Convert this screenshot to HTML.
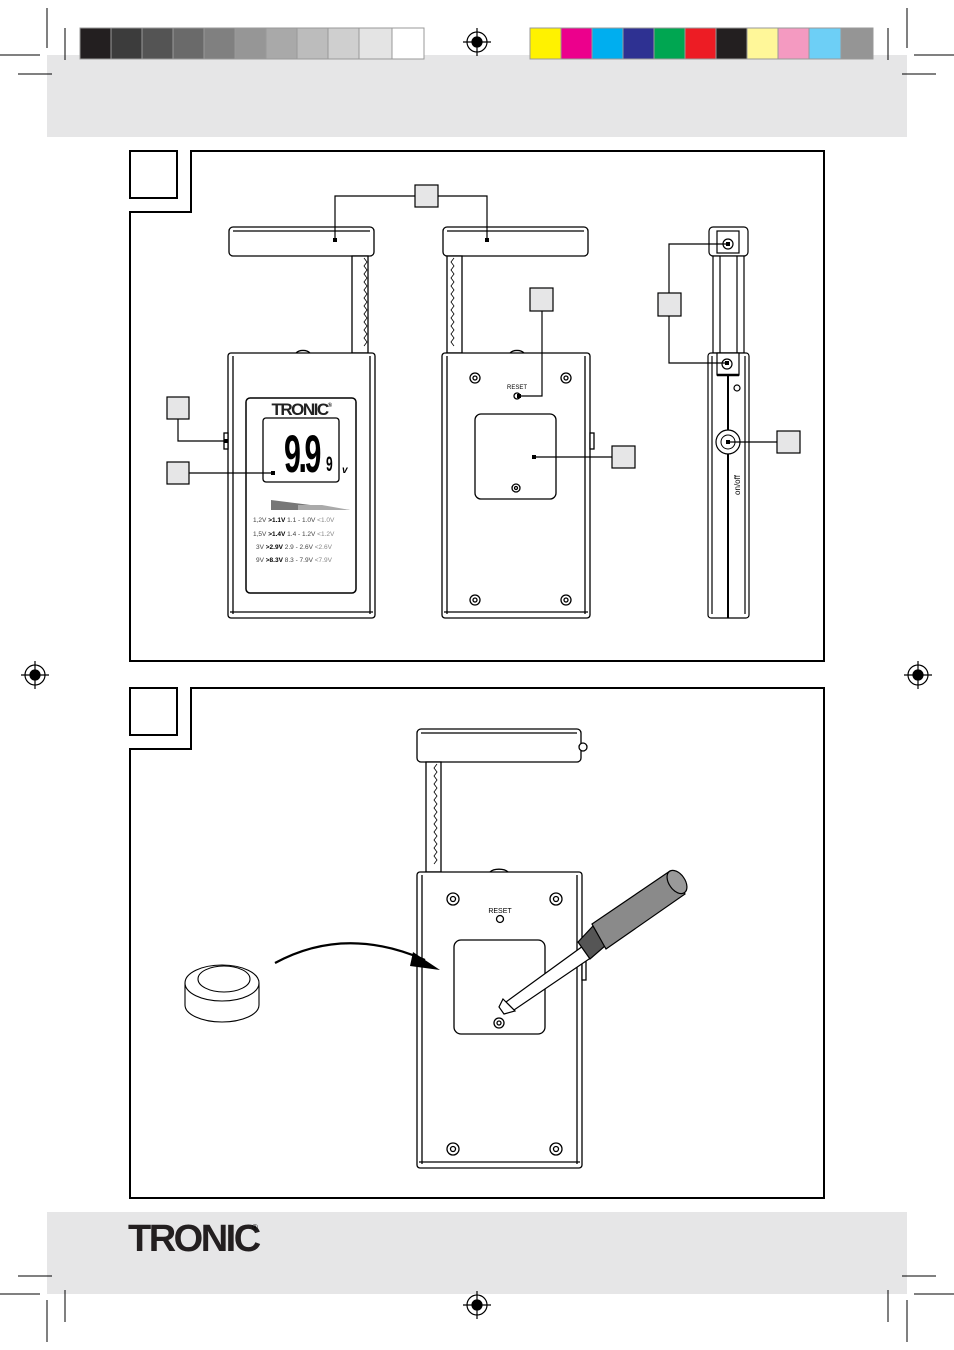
<!DOCTYPE html>
<html><head><meta charset="utf-8"><style>
html,body{margin:0;padding:0;background:#fff}
svg{display:block}
text{font-family:"Liberation Sans",Arial,sans-serif}
</style></head><body>
<svg width="954" height="1350" viewBox="0 0 954 1350" xmlns="http://www.w3.org/2000/svg">
<rect x="47" y="55" width="860" height="82" fill="#e6e6e7"/>
<rect x="47" y="1212" width="860" height="82" fill="#e6e6e7"/>
<g stroke="#999" stroke-width="1">
<rect x="80" y="28" width="31" height="31" fill="#231f20"/>
<rect x="111" y="28" width="31" height="31" fill="#3c3c3c"/>
<rect x="142" y="28" width="31" height="31" fill="#545454"/>
<rect x="173" y="28" width="31" height="31" fill="#6a6a6a"/>
<rect x="204" y="28" width="31" height="31" fill="#808080"/>
<rect x="235" y="28" width="31" height="31" fill="#969696"/>
<rect x="266" y="28" width="31" height="31" fill="#a9a9a9"/>
<rect x="297" y="28" width="31" height="31" fill="#bcbcbc"/>
<rect x="328" y="28" width="31" height="31" fill="#cfcfcf"/>
<rect x="359" y="28" width="33" height="31" fill="#e4e4e4"/>
<rect x="392" y="28" width="32" height="31" fill="#fff"/>
<rect x="530" y="28" width="31" height="31" fill="#fff200"/>
<rect x="561" y="28" width="31" height="31" fill="#ec008c"/>
<rect x="592" y="28" width="31" height="31" fill="#00aeef"/>
<rect x="623" y="28" width="31" height="31" fill="#2e3192"/>
<rect x="654" y="28" width="31" height="31" fill="#00a651"/>
<rect x="685" y="28" width="31" height="31" fill="#ed1c24"/>
<rect x="716" y="28" width="31" height="31" fill="#231f20"/>
<rect x="747" y="28" width="31" height="31" fill="#fff799"/>
<rect x="778" y="28" width="31" height="31" fill="#f49ac1"/>
<rect x="809" y="28" width="32" height="31" fill="#6dcff6"/>
<rect x="841" y="28" width="32" height="31" fill="#959595"/>
</g>
<g stroke="#000" stroke-width="1">
<line x1="47" y1="8" x2="47" y2="48"/><line x1="65" y1="28" x2="65" y2="60"/>
<line x1="0" y1="55" x2="40" y2="55"/><line x1="18" y1="74" x2="52" y2="74"/>
<line x1="907" y1="8" x2="907" y2="48"/><line x1="888" y1="28" x2="888" y2="60"/>
<line x1="914" y1="55" x2="954" y2="55"/><line x1="902" y1="74" x2="936" y2="74"/>
<line x1="47" y1="1300" x2="47" y2="1342"/><line x1="65" y1="1290" x2="65" y2="1322"/>
<line x1="0" y1="1294" x2="40" y2="1294"/><line x1="18" y1="1276" x2="52" y2="1276"/>
<line x1="907" y1="1300" x2="907" y2="1342"/><line x1="888" y1="1290" x2="888" y2="1322"/>
<line x1="914" y1="1294" x2="954" y2="1294"/><line x1="902" y1="1276" x2="936" y2="1276"/>
</g>
<g stroke="#000" stroke-width="1.2" fill="none">
<g transform="translate(477,42)"><circle r="10"/><circle r="5" fill="#000"/><line x1="-14" x2="14"/><line y1="-14" y2="14"/></g>
<g transform="translate(35,675)"><circle r="10"/><circle r="5" fill="#000"/><line x1="-14" x2="14"/><line y1="-14" y2="14"/></g>
<g transform="translate(918,675)"><circle r="10"/><circle r="5" fill="#000"/><line x1="-14" x2="14"/><line y1="-14" y2="14"/></g>
<g transform="translate(477,1305)"><circle r="10"/><circle r="5" fill="#000"/><line x1="-14" x2="14"/><line y1="-14" y2="14"/></g>
</g>
<g fill="none" stroke="#000" stroke-width="2">
<polygon points="191,151 824,151 824,661 130,661 130,212 191,212"/>
<rect x="130" y="151" width="47" height="47"/>
<polygon points="191,688 824,688 824,1198 130,1198 130,749 191,749"/>
<rect x="130" y="688" width="47" height="47"/>
</g>
<!-- DEVICE 1 -->
<g fill="#fff" stroke="#000" stroke-width="1.3">
<rect x="229" y="227" width="145" height="29" rx="4"/>
<line x1="233" y1="231" x2="370" y2="231"/>
<rect x="352" y="256" width="16" height="97"/>
<path d="M296,353 a8,5 0 0 1 14,0" />
<rect x="228" y="353" width="147" height="265" rx="3"/>
<line x1="233" y1="356" x2="233" y2="614"/><line x1="370" y1="356" x2="370" y2="614"/>
<line x1="230" y1="612" x2="373" y2="612"/>
<rect x="224" y="433" width="4" height="16"/>
<rect x="246" y="398" width="110" height="195" rx="4" stroke-width="1.5"/>
<rect x="263" y="418" width="76" height="64" rx="3"/>
</g>
<path d="M364,258 l3,4 -3,4 3,4 -3,4 3,4 -3,4 3,4 -3,4 3,4 -3,4 3,4 -3,4 3,4 -3,4 3,4 -3,4 3,4 -3,4 3,4 -3,4 3,4 -3,4" fill="none" stroke="#000" stroke-width="0.8"/>
<text x="301" y="415" font-size="17" font-weight="bold" text-anchor="middle" letter-spacing="-1.5" fill="#222">TRONIC<tspan font-size="6" dy="-8">®</tspan></text>
<text transform="translate(284,472) scale(0.8,1.4)" font-size="38" font-weight="bold" letter-spacing="-3">9.9</text>
<text transform="translate(326,471) scale(0.8,1.4)" font-size="15" font-weight="bold">9</text>
<text x="342" y="473" font-size="10" font-weight="bold" font-style="italic">v</text>
<polygon points="271,500 271,510 350,510" fill="#777"/>
<polygon points="298,505 298,510 350,510 322,505" fill="#aaa"/>
<g font-size="6.5" fill="#444">
<text x="253" y="522">1,2V <tspan font-weight="bold" fill="#000">&gt;1.1V</tspan> 1.1 - 1.0V <tspan fill="#888">&lt;1.0V</tspan></text>
<text x="253" y="536">1,5V <tspan font-weight="bold" fill="#000">&gt;1.4V</tspan> 1.4 - 1.2V <tspan fill="#888">&lt;1.2V</tspan></text>
<text x="256" y="549">3V <tspan font-weight="bold" fill="#000">&gt;2.9V</tspan> 2.9 - 2.6V <tspan fill="#888">&lt;2.6V</tspan></text>
<text x="256" y="562">9V <tspan font-weight="bold" fill="#000">&gt;8.3V</tspan> 8.3 - 7.9V <tspan fill="#888">&lt;7.9V</tspan></text>
</g>
<!-- DEVICE 2 -->
<g fill="#fff" stroke="#000" stroke-width="1.3">
<rect x="443" y="227" width="145" height="29" rx="4"/>
<line x1="447" y1="231" x2="584" y2="231"/>
<rect x="447" y="256" width="15" height="97"/>
<path d="M510,353 a8,5 0 0 1 14,0"/>
<rect x="442" y="353" width="148" height="265" rx="3"/>
<line x1="447" y1="356" x2="447" y2="614"/><line x1="585" y1="356" x2="585" y2="614"/>
<line x1="444" y1="612" x2="588" y2="612"/>
<rect x="590" y="433" width="4" height="16"/>
<rect x="475" y="414" width="81" height="85" rx="6"/>
<circle cx="475" cy="378" r="5"/><circle cx="475" cy="378" r="2"/>
<circle cx="566" cy="378" r="5"/><circle cx="566" cy="378" r="2"/>
<circle cx="475" cy="600" r="5"/><circle cx="475" cy="600" r="2"/>
<circle cx="566" cy="600" r="5"/><circle cx="566" cy="600" r="2"/>
<circle cx="516" cy="488" r="4"/><circle cx="516" cy="488" r="1.5"/>
<circle cx="517" cy="396" r="3"/>
</g>
<path d="M454,258 l-3,4 3,4 -3,4 3,4 -3,4 3,4 -3,4 3,4 -3,4 3,4 -3,4 3,4 -3,4 3,4 -3,4 3,4 -3,4 3,4 -3,4 3,4 -3,4 3,4" fill="none" stroke="#000" stroke-width="0.8"/>
<text x="517" y="389" font-size="6" text-anchor="middle">RESET</text>
<!-- DEVICE 3 -->
<g fill="#fff" stroke="#000" stroke-width="1.2">
<rect x="709" y="227" width="39" height="29" rx="4"/>
<rect x="713" y="256" width="31" height="97"/>
<line x1="720" y1="256" x2="720" y2="353"/><line x1="737" y1="256" x2="737" y2="353"/>
<rect x="708" y="353" width="41" height="265" rx="3"/>
<line x1="712" y1="356" x2="712" y2="614"/><line x1="745" y1="356" x2="745" y2="614"/>
<rect x="717" y="231" width="22" height="22"/>
<circle cx="728" cy="244" r="5"/>
<rect x="717" y="353" width="22" height="22"/>
<circle cx="727" cy="364" r="5"/>
<circle cx="737" cy="388" r="3"/>
</g>
<line x1="728" y1="375" x2="728" y2="618" stroke="#000" stroke-width="2"/>
<line x1="717" y1="375" x2="739" y2="375" stroke="#000" stroke-width="2.5"/>
<circle cx="728" cy="442" r="12" fill="#fff" stroke="#000" stroke-width="1.2"/><circle cx="728" cy="442" r="7" fill="none" stroke="#000"/>
<text x="740" y="485" font-size="8" transform="rotate(-90 740 485)" text-anchor="middle">on/off</text>
<g fill="none" stroke="#000" stroke-width="1.2">
<polyline points="335,240 335,196 415,196"/>
<polyline points="438,196 487,196 487,240"/>
<polyline points="542,311 542,396 519,396"/>
<line x1="535" y1="457" x2="612" y2="457"/>
<polyline points="178,419 178,441 226,441"/>
<line x1="189" y1="473" x2="273" y2="473"/>
<polyline points="669,293 669,244 728,244"/>
<polyline points="669,316 669,363 727,363"/>
<line x1="728" y1="442" x2="777" y2="442"/>
</g>
<g fill="#000"><rect x="333" y="238" width="4" height="4"/><rect x="485" y="238" width="4" height="4"/><rect x="517" y="394" width="4" height="4"/><rect x="532" y="455" width="4" height="4"/><rect x="224" y="439" width="4" height="4"/><rect x="271" y="471" width="4" height="4"/><rect x="726" y="242" width="4" height="4"/><rect x="725" y="361" width="4" height="4"/><rect x="726" y="440" width="4" height="4"/></g>
<g fill="#e6e6e7" stroke="#000" stroke-width="1.2">
<rect x="415" y="185" width="23" height="22"/>
<rect x="530" y="288" width="23" height="23"/>
<rect x="612" y="446" width="23" height="22"/>
<rect x="167" y="397" width="22" height="22"/>
<rect x="167" y="462" width="22" height="22"/>
<rect x="658" y="293" width="23" height="23"/>
<rect x="777" y="431" width="23" height="22"/>
</g>
<!-- PANEL 2 -->
<g fill="#fff" stroke="#000" stroke-width="1.3">
<rect x="417" y="729" width="164" height="33" rx="4"/>
<line x1="421" y1="733" x2="577" y2="733"/>
<circle cx="583" cy="747" r="4"/>
<rect x="426" y="762" width="15" height="110"/>
<path d="M490,872 a10,5 0 0 1 18,0"/>
<rect x="417" y="872" width="165" height="296" rx="3"/>
<line x1="422" y1="875" x2="422" y2="1164"/><line x1="577" y1="875" x2="577" y2="1164"/>
<line x1="419" y1="1162" x2="580" y2="1162"/>
<rect x="582" y="960" width="4" height="20"/>
<rect x="454" y="940" width="91" height="94" rx="7"/>
<circle cx="453" cy="899" r="6"/><circle cx="453" cy="899" r="2.5"/>
<circle cx="556" cy="899" r="6"/><circle cx="556" cy="899" r="2.5"/>
<circle cx="453" cy="1149" r="6"/><circle cx="453" cy="1149" r="2.5"/>
<circle cx="556" cy="1149" r="6"/><circle cx="556" cy="1149" r="2.5"/>
<circle cx="499" cy="1023" r="5"/><circle cx="499" cy="1023" r="2"/>
<circle cx="500" cy="919" r="3.5"/>
</g>
<path d="M437,764 l-3,4 3,4 -3,4 3,4 -3,4 3,4 -3,4 3,4 -3,4 3,4 -3,4 3,4 -3,4 3,4 -3,4 3,4 -3,4 3,4 -3,4 3,4 -3,4 3,4 -3,4 3,4 -3,4" fill="none" stroke="#000" stroke-width="0.8"/>
<text x="500" y="913" font-size="7" text-anchor="middle">RESET</text>
<g stroke="#000" stroke-width="1.2">
<polygon points="583,946 592,957 514,1010 506,1002" fill="#fff"/>
<path d="M503,999 L515,1011 L504,1014 L499,1007 Z" fill="#fff"/>
<polygon points="578,942 593,926 605,946 590,959" fill="#555"/>
<polygon points="592,924 670,871 685,894 606,949" fill="#8a8a8a"/>
<ellipse cx="677" cy="882" rx="8" ry="13" transform="rotate(-35 677 882)" fill="#999"/>
</g>
<g stroke="#000" stroke-width="1.1" fill="#fff">
<path d="M185,983 L185,1005 A37,17 0 0 0 259,1005 L259,983"/>
<ellipse cx="222" cy="983" rx="37" ry="18"/>
<ellipse cx="224" cy="979" rx="26" ry="13"/>
</g>
<path d="M275,963 Q345,925 425,960" fill="none" stroke="#000" stroke-width="2.2"/>
<polygon points="413,952 440,970 410,966" fill="#000"/>
<text x="128" y="1251" font-size="38" font-weight="bold" letter-spacing="-2.5" fill="#231f20">TRONIC</text>
<text x="252" y="1230" font-size="8">®</text>
</svg>
</body></html>
